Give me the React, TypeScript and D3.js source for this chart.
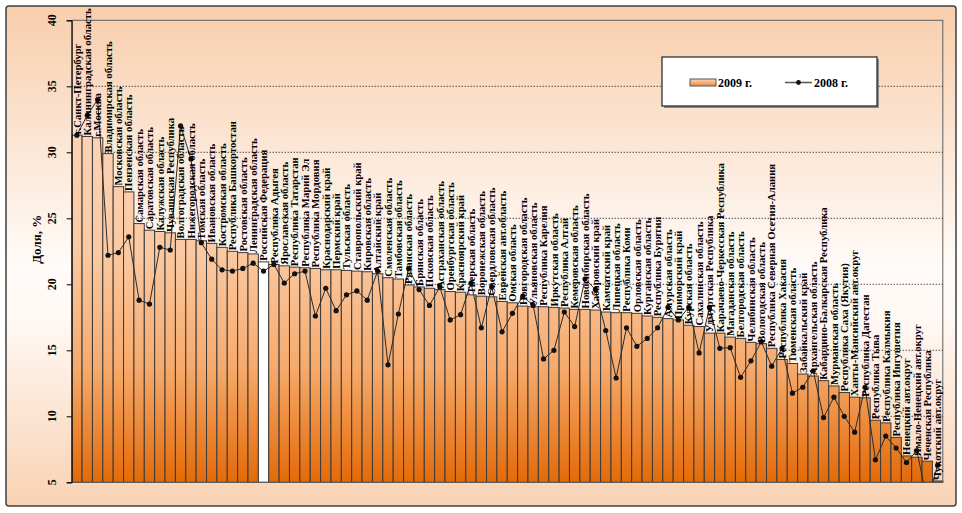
import React, { useRef, useEffect } from 'react';
import * as d3 from 'd3';

// regions ordered by 2009 share
const regions: string[] = [
    'г.Санкт-Петербург', 'Калининградская область', 'г.Москва', 'Владимирская область',
    'Московская область', 'Пензенская область', 'Самарская область', 'Саратовская область',
    'Калужская область', 'Чувашская Республика', 'Волгоградская область', 'Нижегородская область',
    'Томская область', 'Ивановская область', 'Костромская область', 'Республика Башкортостан',
    'Ростовская область', 'Ленинградская область', 'Российская Федерация', 'Республика Адыгея',
    'Ярославская область', 'Республика Татарстан', 'Республика Марий Эл', 'Республика Мордовия',
    'Краснодарский край', 'Пермский край', 'Тульская область', 'Ставропольский край',
    'Кировская область', 'Алтайский край', 'Смоленская область', 'Тамбовская область',
    'Рязанская область', 'Брянская область', 'Псковская область', 'Астраханская область',
    'Оренбургская область', 'Красноярский край', 'Тверская область', 'Воронежская область',
    'Свердловская область', 'Еврейская авт.область', 'Омская область', 'Новгородская область',
    'Ульяновская область', 'Республика Карелия', 'Иркутская область', 'Республика Алтай',
    'Кемеровская область', 'Новосибирская область', 'Хабаровский край', 'Камчатский край',
    'Липецкая область', 'Республика Коми', 'Орловская область', 'Курганская область',
    'Республика Бурятия', 'Амурская область', 'Приморский край', 'Курская область',
    'Сахалинская область', 'Удмуртская Республика', 'Карачаево-Черкесская Республика', 'Магаданская область',
    'Белгородская область', 'Челябинская область', 'Вологодская область', 'Республика Северная Осетия-Алания',
    'Республика Хакасия', 'Тюменская область', 'Забайкальский край', 'Архангельская область',
    'Кабардино-Балкарская Республика', 'Мурманская область', 'Республика Саха (Якутия)', 'Ханты-Мансийский авт.округ',
    'Республика Дагестан', 'Республика Тыва', 'Республика Калмыкия', 'Республика Ингушетия',
    'Ненецкий авт.округ', 'Ямало-Ненецкий авт.округ', 'Чеченская Республика', 'Чукотский авт.округ',
];

const share2009: number[] = [
    31.3, 31.2, 31.1, 29.9, 27.4, 27.0, 24.6, 24.1, 24.0, 23.9, 23.4, 23.4,
    23.3, 23.1, 22.8, 22.5, 22.4, 22.3, 21.7, 21.5, 21.4, 21.3, 21.25, 21.2,
    21.1, 21.1, 21.05, 21.0, 20.95, 20.8, 20.5, 20.4, 19.95, 19.8, 19.7, 19.6,
    19.45, 19.4, 19.2, 19.1, 19.05, 18.7, 18.6, 18.35, 18.3, 18.3, 18.25, 18.2,
    18.1, 18.1, 18.05, 17.9, 17.85, 17.85, 17.8, 17.6, 17.5, 17.4, 17.3, 16.9,
    16.8, 16.3, 16.3, 16.0, 15.9, 15.6, 15.5, 15.15, 14.3, 14.0, 13.2, 13.05,
    12.7, 12.3, 11.8, 11.45, 11.4, 9.7, 9.5, 8.4, 7.0, 6.9, 6.6, 5.1,
];

const share2008: number[] = [
    31.3, 32.8, 34.0, 22.2, 22.4, 23.6, 18.8, 18.5, 22.8, 22.6, 32.0, 29.5,
    23.15, 21.9, 21.1, 21.0, 21.2, 21.6, 21.0, 21.5, 20.1, 20.8, 21.0, 17.6,
    19.7, 18.0, 19.2, 19.5, 18.8, 21.0, 13.9, 17.75, 21.2, 19.6, 18.4, 19.8,
    17.3, 17.7, 20.1, 16.7, 19.8, 16.4, 17.8, 19.1, 18.4, 14.35, 15.0, 17.9,
    16.8, 20.4, 19.6, 16.5, 12.9, 16.7, 15.3, 15.9, 16.7, 18.25, 17.3, 18.25,
    14.8, 18.25, 15.15, 15.2, 12.95, 14.2, 15.65, 13.8, 15.15, 11.75, 12.2, 13.45,
    9.9, 11.45, 10.0, 8.8, 12.2, 6.7, 8.5, 7.6, 6.5, 7.4, 3.6, 6.3,
];

const yTicks: number[] = [5, 10, 15, 20, 25, 30, 35, 40];
const seriesNames: string[] = ['2009 г.', '2008 г.'];
const totalName = 'Российская Федерация';

interface Row {
    name: string;
    v2009: number;
    v2008: number;
}

const App: React.FC = () => {
    const svgRef = useRef<SVGSVGElement>(null);

    useEffect(() => {
        const data: Row[] = regions.map((name, i) => ({ name, v2009: share2009[i], v2008: share2008[i] }));

        const width = 962;
        const height = 513;
        const margin = { top: 20.3, right: 19.2, bottom: 30.7, left: 71.7 };
        const font = "'Liberation Serif', 'Times New Roman', serif";

        const xScale = d3.scaleBand<string>()
            .domain(regions)
            .range([margin.left, width - margin.right])
            .padding(0);

        const yScale = d3.scaleLinear()
            .domain([5, 40])
            .range([height - margin.bottom, margin.top]);

        const svg = d3.select(svgRef.current);
        svg.selectAll('*').remove();

        const defs = svg.append('defs');

        // chart background: peach - white - peach
        const bg = defs.append('linearGradient')
            .attr('id', 'bgGrad').attr('x1', 0).attr('y1', 0).attr('x2', 0).attr('y2', 1);
        bg.append('stop').attr('offset', '0%').attr('stop-color', '#f8ceac');
        bg.append('stop').attr('offset', '52%').attr('stop-color', '#fffbf8');
        bg.append('stop').attr('offset', '62%').attr('stop-color', '#fff9f5');
        bg.append('stop').attr('offset', '100%').attr('stop-color', '#f9d2b3');

        // bars share one gradient over the plot height
        const barGrad = defs.append('linearGradient')
            .attr('id', 'barGrad')
            .attr('gradientUnits', 'userSpaceOnUse')
            .attr('x1', 0).attr('y1', yScale(40)).attr('x2', 0).attr('y2', yScale(5));
        barGrad.append('stop').attr('offset', '0%').attr('stop-color', '#fddcc5');
        barGrad.append('stop').attr('offset', '50%').attr('stop-color', '#fbc9a2');
        barGrad.append('stop').attr('offset', '75%').attr('stop-color', '#f6aa6c');
        barGrad.append('stop').attr('offset', '100%').attr('stop-color', '#e36a08');

        const legendGrad = defs.append('linearGradient')
            .attr('id', 'legGrad').attr('x1', 0).attr('y1', 0).attr('x2', 0).attr('y2', 1);
        legendGrad.append('stop').attr('offset', '0%').attr('stop-color', '#fcd6b8');
        legendGrad.append('stop').attr('offset', '100%').attr('stop-color', '#ec8a40');

        defs.append('clipPath').attr('id', 'plotClip')
            .append('rect')
            .attr('x', margin.left).attr('y', margin.top)
            .attr('width', width - margin.left - margin.right)
            .attr('height', height - margin.top - margin.bottom);

        // outer frame
        svg.append('rect')
            .attr('x', 6).attr('y', 6).attr('width', width - 12).attr('height', height - 13)
            .attr('rx', 3)
            .attr('fill', 'url(#bgGrad)')
            .attr('stroke', '#3f3f3f')
            .attr('stroke-width', 1.5);

        // dotted gridlines
        svg.append('g')
            .selectAll('line')
            .data(yTicks.filter(t => t > 5 && t < 40))
            .join('line')
            .attr('x1', margin.left).attr('x2', width - margin.right)
            .attr('y1', d => yScale(d)).attr('y2', d => yScale(d))
            .attr('stroke', '#000')
            .attr('stroke-width', 1)
            .attr('stroke-dasharray', '1,2');

        // 2009 bars
        svg.append('g')
            .selectAll('rect')
            .data(data)
            .join('rect')
            .attr('x', d => xScale(d.name) || 0)
            .attr('y', d => yScale(d.v2009))
            .attr('width', xScale.bandwidth())
            .attr('height', d => yScale(5) - yScale(d.v2009))
            .attr('fill', d => (d.name === totalName ? '#ffffff' : 'url(#barGrad)'))
            .attr('stroke', '#3a3a3a')
            .attr('stroke-width', 1);

        // plot border
        svg.append('rect')
            .attr('x', margin.left).attr('y', margin.top)
            .attr('width', width - margin.left - margin.right)
            .attr('height', height - margin.top - margin.bottom)
            .attr('fill', 'none')
            .attr('stroke', '#606060')
            .attr('stroke-width', 1);

        // 2008 line
        const line = d3.line<Row>()
            .x(d => (xScale(d.name) || 0) + xScale.bandwidth() / 2)
            .y(d => yScale(d.v2008));

        svg.append('path')
            .datum(data)
            .attr('clip-path', 'url(#plotClip)')
            .attr('fill', 'none')
            .attr('stroke', '#2b2b2b')
            .attr('stroke-width', 1)
            .attr('d', line);

        svg.append('g')
            .selectAll('circle')
            .data(data.filter(d => d.v2008 >= 5))
            .join('circle')
            .attr('cx', d => (xScale(d.name) || 0) + xScale.bandwidth() / 2)
            .attr('cy', d => yScale(d.v2008))
            .attr('r', 2.6)
            .attr('fill', '#111');

        // region labels above each bar
        svg.append('g')
            .selectAll('text')
            .data(data)
            .join('text')
            .attr('transform', d => {
                const cx = (xScale(d.name) || 0) + xScale.bandwidth() / 2;
                return `translate(${cx},${yScale(d.v2009) - 1}) rotate(-90)`;
            })
            .attr('dy', '0.35em')
            .attr('text-anchor', 'start')
            .attr('font-family', font)
            .attr('font-weight', 'bold')
            .attr('font-size', 10.7)
            .attr('fill', '#000')
            .text(d => d.name);

        // y axis
        const yAxis = svg.append('g')
            .attr('transform', `translate(${margin.left},0)`)
            .call(d3.axisLeft(yScale).tickValues(yTicks).tickSize(5).tickFormat(() => ''));
        yAxis.select('.domain').attr('stroke', '#000');
        yAxis.selectAll('.tick line').attr('stroke', '#000');

        svg.append('g')
            .selectAll('text')
            .data(yTicks)
            .join('text')
            .attr('transform', d => `translate(52,${yScale(d)}) rotate(-90)`)
            .attr('dy', '0.35em')
            .attr('text-anchor', 'middle')
            .attr('font-family', font)
            .attr('font-weight', 'bold')
            .attr('font-size', 12)
            .text(d => String(d));

        svg.append('text')
            .attr('transform', `translate(36,${(yScale(25) + yScale(20)) / 2 - 12}) rotate(-90)`)
            .attr('dy', '0.35em')
            .attr('text-anchor', 'middle')
            .attr('font-family', font)
            .attr('font-weight', 'bold')
            .attr('font-size', 13)
            .text('Доля, %');

        // legend
        const legend = svg.append('g').attr('transform', 'translate(662,57)');
        legend.append('rect')
            .attr('x', 2).attr('y', 2).attr('width', 215).attr('height', 49)
            .attr('fill', '#8a8a8a');
        legend.append('rect')
            .attr('width', 215).attr('height', 49)
            .attr('fill', '#fff')
            .attr('stroke', '#222')
            .attr('stroke-width', 1.2);
        legend.append('rect')
            .attr('x', 28).attr('y', 22).attr('width', 26).attr('height', 7)
            .attr('fill', 'url(#legGrad)')
            .attr('stroke', '#555');
        legend.append('text')
            .attr('x', 56).attr('y', 30)
            .attr('font-family', font).attr('font-weight', 'bold').attr('font-size', 12)
            .text(seriesNames[0]);
        legend.append('line')
            .attr('x1', 123).attr('x2', 150).attr('y1', 25.5).attr('y2', 25.5)
            .attr('stroke', '#555').attr('stroke-width', 1.5);
        legend.append('circle')
            .attr('cx', 136.5).attr('cy', 25.5).attr('r', 2.4).attr('fill', '#111');
        legend.append('text')
            .attr('x', 152).attr('y', 30)
            .attr('font-family', font).attr('font-weight', 'bold').attr('font-size', 12)
            .text(seriesNames[1]);
    }, []);

    return (
        <svg ref={svgRef} width={962} height={513} style={{ position: 'absolute', left: 0, top: 0 }}></svg>
    );
};

export default App;
